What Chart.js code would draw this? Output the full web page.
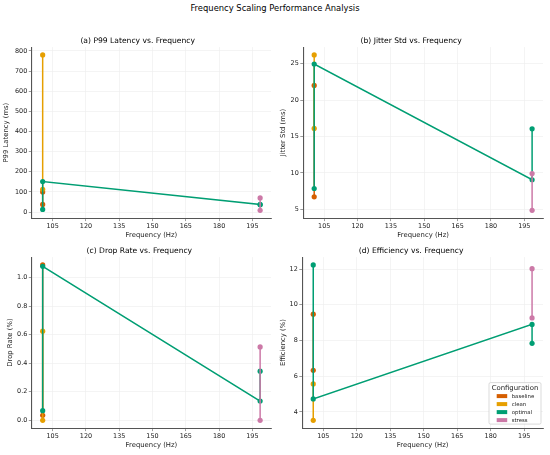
<!DOCTYPE html>
<html><head><meta charset="utf-8">
<script src="https://cdn.jsdelivr.net/npm/chart.js@4.4.0/dist/chart.umd.min.js"></script>
<style>
html,body{margin:0;padding:0;background:#fff;}
#wrap{position:relative;width:550px;height:455px;overflow:hidden;background:#fff;}
#sup{position:absolute;left:0;top:2px;width:550px;text-align:center;font-family:"DejaVu Sans";font-size:8.4px;line-height:12px;color:#000;}
canvas{position:absolute;}
</style></head><body>
<div id="wrap">
<div id="sup">Frequency Scaling Performance Analysis</div>
<canvas id="ca" width="275" height="208" style="left:0px;top:32px;"></canvas>
<canvas id="cb" width="275" height="208" style="left:275px;top:32px;"></canvas>
<canvas id="cc" width="275" height="208" style="left:0px;top:242px;"></canvas>
<canvas id="cd" width="275" height="208" style="left:275px;top:242px;"></canvas>
</div>
<script>
// ---- data ----
const configs = ['baseline', 'clean', 'optimal', 'stress'];
const configColors = ['#D55E00', '#E69F00', '#009E73', '#CC79A7'];

const xBaseline = [100.5, 100.5];
const xClean = [100.5, 100.5];
const xOptimal = [100.5, 100.5, 198.5, 198.5];
const xStress = [198.5, 198.5];

const p99Baseline = [100, 38];
const p99Clean = [780, 113];
const p99Optimal = [13, 151, 38, 36];
const p99Stress = [70, 8.5];

const jitterBaseline = [22.0, 6.7];
const jitterClean = [26.2, 16.1];
const jitterOptimal = [7.85, 24.95, 9.05, 16.05];
const jitterStress = [9.9, 4.85];

const dropBaseline = [1.09, 0.035];
const dropClean = [0.625, 0.0];
const dropOptimal = [0.068, 1.08, 0.135, 0.345];
const dropStress = [0.515, 0.0];

const effBaseline = [9.47, 6.33];
const effClean = [5.57, 3.53];
const effOptimal = [12.23, 4.73, 8.9, 7.84];
const effStress = [12.02, 9.26];

const xTicks = [105, 120, 135, 150, 165, 180, 195];
const p99Ticks = [0, 100, 200, 300, 400, 500, 600, 700, 800];
const jitterTicks = [5, 10, 15, 20, 25];
const dropTicks = [0.0, 0.2, 0.4, 0.6, 0.8, 1.0];
const effTicks = [4, 6, 8, 10, 12];

const xSets = [xBaseline, xClean, xOptimal, xStress];

// ---- helpers ----
const FONT = 'DejaVu Sans';
const TXT = '#222222';
function range(arrs) {
  const all = [].concat(...arrs);
  const mn = Math.min(...all), mx = Math.max(...all);
  const pad = (mx - mn) * 0.05;
  return [mn - pad, mx + pad];
}
const xr = range(xSets);

const legendPlugin = {
  id: 'mplLegend',
  afterDraw(chart, args, opts) {
    if (!opts || !opts.show) return;
    const ctx = chart.ctx, ca = chart.chartArea;
    const w = 52, h = 41.5;
    const right = ca.right - 2, bottom = ca.bottom - 4;
    const left = right - w, top = bottom - h;
    ctx.save();
    ctx.beginPath();
    if (ctx.roundRect) ctx.roundRect(left, top, w, h, 1.5); else ctx.rect(left, top, w, h);
    ctx.fillStyle = 'rgba(255,255,255,0.85)';
    ctx.fill();
    ctx.strokeStyle = '#cccccc';
    ctx.lineWidth = 0.7;
    ctx.stroke();
    ctx.fillStyle = TXT;
    ctx.textBaseline = 'middle';
    ctx.textAlign = 'center';
    ctx.font = '6.9px "' + FONT + '"';
    ctx.fillText('Configuration', left + w / 2, top + 5.2);
    ctx.textAlign = 'left';
    ctx.font = '5.4px "' + FONT + '"';
    configs.forEach((c, i) => {
      const cy = top + 13.5 + i * 8;
      ctx.fillStyle = configColors[i];
      ctx.fillRect(left + 7.7, cy - 2, 10.5, 4);
      ctx.fillStyle = TXT;
      ctx.fillText(c, left + 22.7, cy + 0.3);
    });
    ctx.restore();
  }
};

function makeChart(id, title, yLabel, ySets, yTicks, o) {
  const yr = range(ySets);
  const datasets = configs.map((c, i) => ({
    label: c,
    data: xSets[i].map((x, j) => ({ x: x, y: ySets[i][j] })),
    borderColor: configColors[i],
    backgroundColor: configColors[i],
    pointBackgroundColor: configColors[i],
    pointBorderWidth: 0,
    pointRadius: 2.6,
    borderWidth: 1.5,
    tension: 0,
    order: configs.length - i
  }));
  const grid = { color: '#ececec', lineWidth: 0.6, tickColor: '#555', tickLength: 3, drawTicks: true };
  const border = { display: true, color: '#555', width: 1.1 };
  return new Chart(document.getElementById(id), {
    type: 'line',
    data: { datasets },
    plugins: [legendPlugin],
    options: {
      responsive: false,
      animation: false,
      events: [],
      layout: { padding: { left: o.padLeft, right: o.padRight, top: 0, bottom: 0.8 } },
      plugins: {
        legend: { display: false },
        tooltip: { enabled: false },
        title: { display: true, text: title, color: '#000', font: { family: FONT, size: 7.6, weight: 'normal' }, padding: { top: 4, bottom: 2 } },
        mplLegend: { show: !!o.legend }
      },
      scales: {
        x: {
          type: 'linear', min: xr[0], max: xr[1],
          afterBuildTicks: s => { s.ticks = xTicks.map(v => ({ value: v })); },
          afterFit: s => { s.height = 21.1; },
          ticks: { color: TXT, font: { family: FONT, size: 6.45 }, padding: 1, maxRotation: 0, autoSkip: false, callback: v => String(v) },
          grid, border,
          title: { display: true, text: 'Frequency (Hz)', color: TXT, font: { family: FONT, size: 6.85 }, padding: 0 }
        },
        y: {
          type: 'linear', min: yr[0], max: yr[1],
          afterBuildTicks: s => { s.ticks = yTicks.map(v => ({ value: v })); },
          afterFit: s => { s.width = o.yWidth; },
          ticks: { color: TXT, font: { family: FONT, size: 6.45 }, padding: 1.5, autoSkip: false, callback: v => o.fmt(v) },
          grid, border,
          title: { display: true, text: yLabel, color: TXT, font: { family: FONT, size: 6.85 }, padding: 0 }
        }
      }
    }
  });
}

const intFmt = v => String(Math.round(v));
makeChart('ca', '(a) P99 Latency vs. Frequency', 'P99 Latency (ms)',
  [p99Baseline, p99Clean, p99Optimal, p99Stress], p99Ticks,
  { padLeft: 2.6, yWidth: 29.2, padRight: 2.2, fmt: intFmt });
makeChart('cb', '(b) Jitter Std vs. Frequency', 'Jitter Std (ms)',
  [jitterBaseline, jitterClean, jitterOptimal, jitterStress], jitterTicks,
  { padLeft: 4.2, yWidth: 24.1, padRight: 7, fmt: intFmt });
makeChart('cc', '(c) Drop Rate vs. Frequency', 'Drop Rate (%)',
  [dropBaseline, dropClean, dropOptimal, dropStress], dropTicks,
  { padLeft: 5.9, yWidth: 25.9, padRight: 2.2, fmt: v => v.toFixed(1) });
makeChart('cd', '(d) Efficiency vs. Frequency', 'Efficiency (%)',
  [effBaseline, effClean, effOptimal, effStress], effTicks,
  { padLeft: 4.2, yWidth: 23.1, padRight: 7, fmt: intFmt, legend: true });
</script>
</body></html>
